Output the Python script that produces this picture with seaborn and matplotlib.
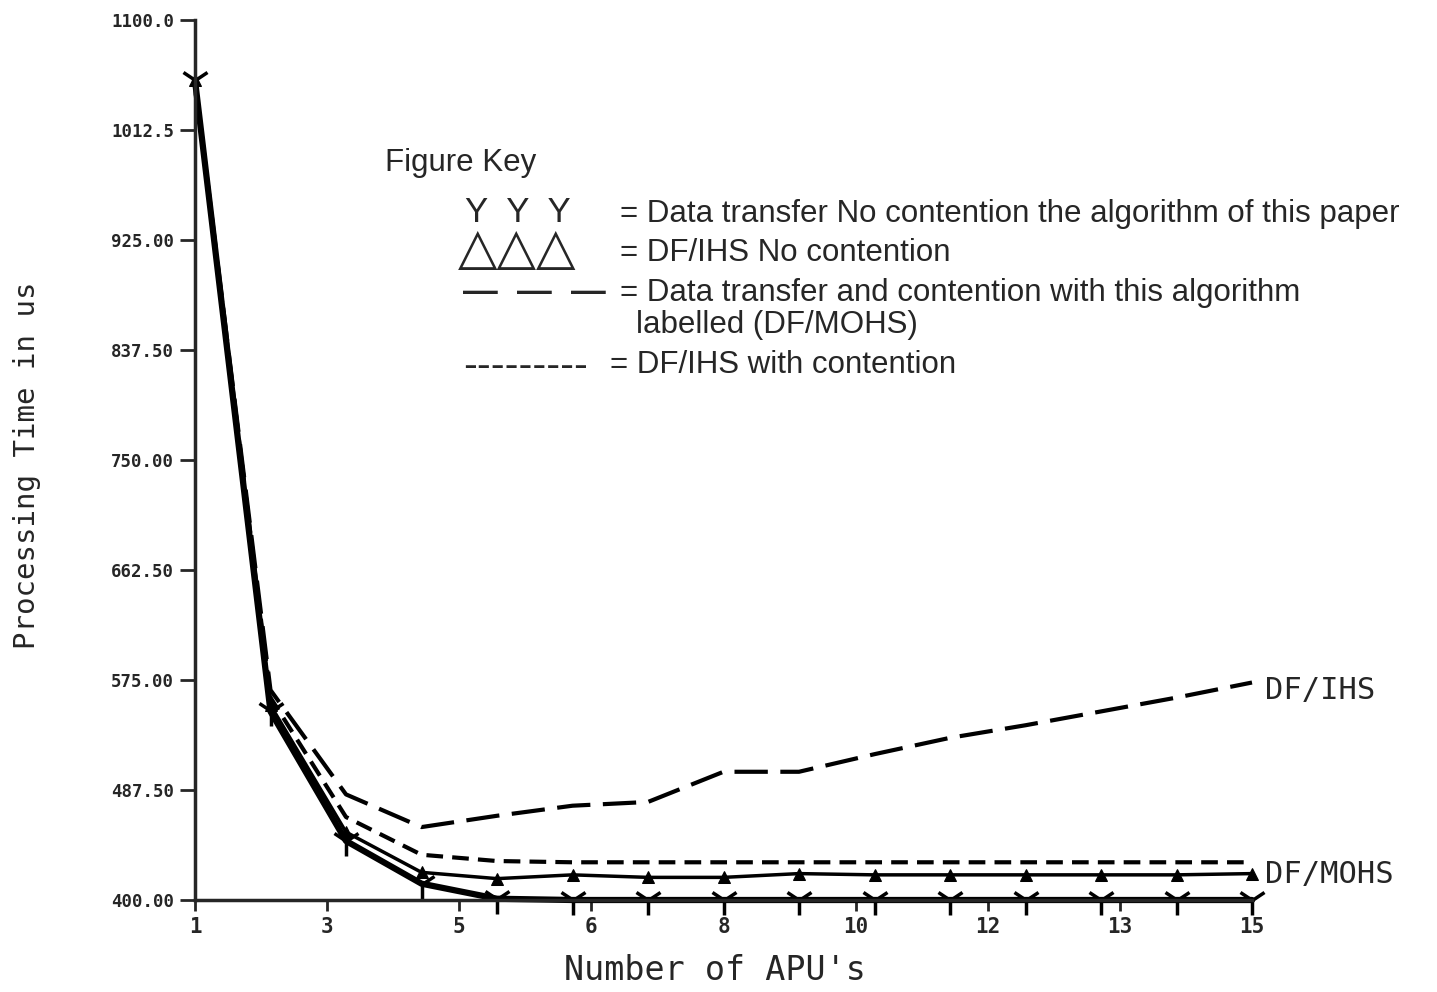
import numpy as np
import pandas as pd
import seaborn as sns
import matplotlib.pyplot as plt

# values (processing time in us)
apus = list(range(1, 16))
dt_no_contention = [1052, 550, 447, 413, 401, 400, 400, 400, 400, 400, 400, 400, 400, 400, 400]
dfihs_no_contention = [1052, 555, 454, 422, 417, 420, 418, 418, 421, 420, 420, 420, 420, 420, 421]
dfihs_contention = [1052, 567, 484, 458, 467, 475, 478, 502, 502, 516, 529, 539, 550, 561, 573]
dfmohs_contention = [1052, 561, 466, 436, 431, 430, 430, 430, 430, 430, 430, 430, 430, 430, 430]

xtick_labels = ['1', '3', '5', '6', '8', '10', '12', '13', '15']
ytick_labels = ['400.00', '487.50', '575.00', '662.50', '750.00',
                '837.50', '925.00', '1012.5', '1100.0']

df = pd.DataFrame({'apu': apus,
                   'dt': dt_no_contention,
                   'ihs': dfihs_no_contention,
                   'ihs_c': dfihs_contention,
                   'mohs_c': dfmohs_contention})

sns.set_style('ticks')
plt.rcParams['font.family'] = ['Liberation Sans', 'DejaVu Sans']

W, H = 1437, 992
fig = plt.figure(figsize=(W / 100, H / 100), dpi=100)
ax = fig.add_axes([195 / W, 1 - 900 / H, (1252 - 195) / W, (900 - 20) / H])

sns.lineplot(data=df, x='apu', y='ihs_c', ax=ax, color='black', lw=3,
             linestyle=(0, (8, 3)), clip_on=False)
sns.lineplot(data=df, x='apu', y='mohs_c', ax=ax, color='black', lw=3,
             linestyle=(0, (4, 2.2)), clip_on=False)
sns.lineplot(data=df, x='apu', y='ihs', ax=ax, color='black', lw=2.5,
             marker='^', markersize=9, markeredgecolor='black', clip_on=False)
sns.lineplot(data=df, x='apu', y='dt', ax=ax, color='black', lw=4.5,
             marker='1', markersize=22, markeredgewidth=2.5,
             markeredgecolor='black', clip_on=False)

ax.set_xlim(1, 15)
ax.set_ylim(400, 1100)
ax.set_xticks(np.linspace(1, 15, 9))
ax.set_xticklabels(xtick_labels)
ax.set_yticks(np.linspace(400, 1100, 9))
ax.set_yticklabels(ytick_labels)
ax.set_xlabel('')
ax.set_ylabel('')
for lab in ax.get_xticklabels():
    lab.set_fontfamily('DejaVu Sans Mono')
    lab.set_fontsize(15)
    lab.set_fontweight('bold')
for lab in ax.get_yticklabels():
    lab.set_fontfamily('DejaVu Sans Mono')
    lab.set_fontsize(12.5)
    lab.set_fontweight('bold')
ax.tick_params(axis='y', direction='out', length=11, width=2, pad=4)
ax.tick_params(axis='x', direction='out', length=8, width=2, pad=4)
sns.despine(ax=ax)
for s in ['left', 'bottom']:
    ax.spines[s].set_linewidth(2.5)

mono = 'DejaVu Sans Mono'
fig.text(27 / W, 1 - 465 / H, 'Processing Time in us', rotation=90,
         ha='center', va='center', family=mono, fontsize=21)
fig.text(715 / W, 1 - 970 / H, "Number of APU's", ha='center', va='center',
         family=mono, fontsize=24)
fig.text(1265 / W, 1 - 690 / H, 'DF/IHS', ha='left', va='center',
         family=mono, fontsize=22)
fig.text(1265 / W, 1 - 875 / H, 'DF/MOHS', ha='left', va='center',
         family=mono, fontsize=22)

# figure key
def ftxt(x, y, s, **kw):
    fig.text(x / W, 1 - y / H, s, ha='left', va='center', **kw)

fs = 22.5
ftxt(385, 163, 'Figure Key', fontsize=fs)
ftxt(465, 213, 'Y  Y  Y', fontsize=25)
ftxt(620, 214, '= Data transfer No contention the algorithm of this paper', fontsize=fs)
ftxt(458, 251, '\u25b3\u25b3\u25b3', fontsize=37, fontweight='bold')
ftxt(620, 253, '= DF/IHS No contention', fontsize=fs)
ftxt(463, 293, '\u2014  \u2014  \u2014', fontsize=25, fontweight='bold')
ftxt(620, 293, '= Data transfer and contention with this algorithm', fontsize=fs)
ftxt(636, 325, 'labelled (DF/MOHS)', fontsize=fs)
ftxt(463, 367, '---------', fontsize=30)
ftxt(610, 365, '= DF/IHS with contention', fontsize=fs)

fig.savefig('out.png', dpi=100, facecolor='white')
